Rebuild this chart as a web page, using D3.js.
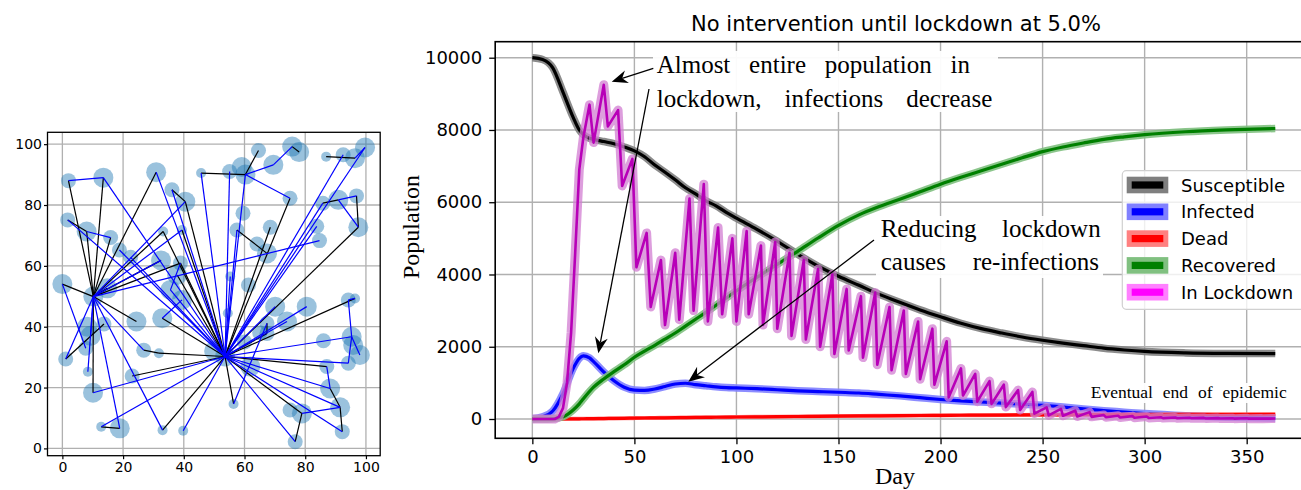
<!DOCTYPE html>
<html>
<head>
<meta charset="utf-8">
<script src="https://cdn.jsdelivr.net/npm/d3@7"></script>
<style>
  body { margin: 0; background: #fff; }
  svg { display: block; font-family: "DejaVu Sans", sans-serif; }
  .serif { font-family: "Liberation Serif", "Times New Roman", serif; }
</style>
</head>
<body>
<svg id="chart" width="1301" height="490"></svg>
<script>
// ---------- left panel: contact network ----------
// [x, y, weight]
const nodes = [
  [10.2, 49.9, 3], [53.6, 30.2, 3], [2.0, 88.0, 2], [13.5, 89.0, 3], [30.9, 90.8, 3],
  [45.7, 90.5, 1], [55.1, 91.0, 2], [59.1, 92.5, 3], [60.3, 90.0, 3], [69.5, 93.2, 3],
  [64.6, 97.9, 2], [75.7, 99.2, 3], [78.0, 97.4, 3], [86.9, 95.9, 1], [92.5, 96.5, 2],
  [96.4, 95.4, 3], [99.7, 98.9, 3], [36.1, 85.0, 2], [40.5, 81.1, 3], [75.0, 82.2, 2],
  [85.8, 80.6, 2], [90.9, 81.7, 3], [96.9, 83.0, 2], [59.5, 77.3, 2], [1.75, 75.1, 2],
  [8.0, 71.3, 3], [15.9, 69.3, 2], [33.2, 71.3, 1], [39.4, 71.8, 1], [57.5, 71.8, 2],
  [68.5, 72.7, 2], [97.5, 72.7, 3], [83.8, 73.0, 2], [84.7, 68.3, 2], [64.1, 67.2, 2],
  [18.8, 65.2, 2], [22.5, 62.8, 2], [32.5, 61.8, 3], [38.9, 60.9, 2], [67.4, 64.1, 3],
  [55.3, 56.5, 1], [61.3, 53.7, 2], [37.8, 57.0, 3], [0.0, 54.0, 3], [14.8, 52.6, 3],
  [35.6, 52.1, 3], [39.4, 48.8, 3], [70.1, 46.6, 3], [80.5, 46.6, 3], [94.2, 48.8, 2],
  [96.4, 49.3, 1], [54.5, 44.4, 1], [24.4, 41.7, 3], [32.9, 42.8, 3], [13.7, 40.9, 2],
  [8.2, 40.0, 3], [9.3, 37.0, 3], [67.4, 41.1, 2], [74.0, 41.7, 3], [67.4, 37.8, 2],
  [86.0, 35.4, 2], [95.3, 36.7, 3], [95.8, 34.0, 3], [7.7, 32.9, 2], [26.8, 32.3, 2],
  [31.8, 31.3, 1], [1.1, 29.4, 2], [61.9, 26.9, 3], [98.0, 30.7, 3], [94.2, 28.0, 2],
  [87.1, 26.9, 2], [8.4, 25.2, 1], [23.0, 23.8, 2], [10.1, 18.3, 3], [88.2, 19.7, 3],
  [56.4, 14.6, 1], [75.0, 12.6, 2], [78.9, 11.5, 3], [91.5, 13.5, 3], [12.8, 7.1, 1],
  [18.9, 6.6, 3], [33.0, 6.0, 1], [39.8, 5.8, 1], [92.2, 5.5, 2], [76.7, 2.2, 2],
  [65.0, 38.0, 2], [60.0, 35.0, 2], [50.0, 32.0, 3]
];
const blackEdges = [
  [0, 2], [0, 3], [0, 4], [0, 25], [0, 26], [0, 27], [0, 38], [0, 43], [0, 52], [0, 73],
  [0, 44], [66, 54], [17, 18], [18, 1], [5, 8], [8, 10], [11, 12], [19, 1], [13, 15],
  [20, 21], [22, 31], [31, 1], [25, 24], [29, 39], [30, 1], [38, 1], [28, 1], [53, 1],
  [64, 65], [65, 1], [72, 1], [79, 80], [81, 1], [75, 1], [84, 77], [77, 1], [78, 83],
  [74, 78], [70, 1], [50, 1], [57, 59], [59, 1], [42, 1], [27, 1], [0, 37]
];
const blueEdges = [
  [2, 3], [3, 1], [4, 1], [5, 1], [6, 1], [8, 1], [8, 9], [9, 11], [8, 19], [14, 1],
  [16, 15], [16, 1], [21, 22], [20, 1], [21, 31], [24, 1], [25, 26], [0, 28], [0, 18],
  [29, 1], [32, 1], [0, 33], [35, 1], [36, 1], [38, 45], [45, 1], [40, 1], [43, 63],
  [0, 56], [66, 0], [0, 64], [0, 71], [73, 1], [80, 0], [79, 1], [81, 0], [82, 1],
  [75, 57], [84, 1], [77, 78], [78, 1], [83, 1], [74, 1], [74, 70], [69, 1], [69, 61],
  [61, 1], [61, 68], [49, 50], [49, 61], [48, 1], [58, 1], [47, 1], [53, 46], [17, 1], [0, 37]
];
const netTicks = [0, 20, 40, 60, 80, 100];

// ---------- right panel: epidemic curves ----------
const days = [0, 5, 10, 15, 20, 23, 25, 28, 30, 35, 40, 45, 50, 55, 60, 65, 70, 75, 80, 85,
  90, 95, 100, 110, 120, 130, 140, 150, 160, 170, 180, 190, 200, 210, 220, 230, 240, 250,
  260, 270, 280, 290, 300, 320, 340, 364];
const susceptible = [10000, 9950, 9720, 9050, 8350, 8000, 7870, 7770, 7740, 7680, 7620, 7530,
  7420, 7260, 7030, 6830, 6620, 6400, 6230, 6040, 5900, 5720, 5560, 5250, 4920, 4560, 4230,
  3950, 3700, 3450, 3230, 3020, 2830, 2650, 2500, 2380, 2270, 2180, 2100, 2030, 1960, 1910,
  1870, 1830, 1815, 1810];
const infected = [10, 60, 220, 700, 1400, 1680, 1750, 1690, 1590, 1300, 1060, 880, 800, 790,
  830, 900, 970, 990, 950, 920, 890, 870, 860, 840, 810, 780, 760, 740, 720, 680, 640, 590,
  540, 500, 470, 440, 410, 380, 330, 280, 230, 190, 150, 90, 50, 25];
const dead = [0, 0, 1, 3, 5, 6, 7, 9, 10, 13, 17, 20, 24, 28, 31, 34, 37, 40, 43, 46, 49, 52,
  55, 60, 65, 70, 75, 80, 85, 89, 93, 97, 100, 104, 107, 110, 113, 115, 117, 119, 121, 123,
  125, 127, 128, 130];
const recovered = [0, 0, 5, 60, 250, 420, 560, 760, 880, 1110, 1310, 1500, 1710, 1880, 2040,
  2210, 2380, 2570, 2760, 2950, 3150, 3350, 3550, 3920, 4280, 4640, 5010, 5360, 5650, 5880,
  6080, 6290, 6500, 6690, 6870, 7050, 7230, 7400, 7530, 7640, 7740, 7810, 7870, 7950, 8000, 8040];

// lockdown: weekly saw-tooth, vertices
const lockDays = [0, 11, 13, 15, 17, 19, 21, 23, 25, 28, 30, 35, 37, 42, 44, 49, 51, 56, 58,
  63, 65, 70, 72, 77, 79, 84, 86, 91, 93, 98, 100, 105, 106, 112, 113, 119, 120, 126, 127,
  133, 134, 140, 141, 147, 148, 154, 155, 161, 162, 168, 169, 175, 176, 182, 183, 189, 190,
  196, 197, 203, 204, 210, 211, 217, 218, 224, 225, 231, 232, 238, 239, 245, 246, 252, 253,
  259, 260, 266, 267, 273, 274, 280, 281, 287, 288, 294, 295, 301, 302, 308, 309, 315, 316,
  322, 323, 329, 330, 336, 337, 343, 344, 350, 351, 357, 358, 364];
const lockdown = [0, 0, 60, 300, 1000, 2400, 4600, 6900, 7800, 8700, 7650, 9250, 8100, 8550,
  6450, 7200, 4200, 5150, 3100, 4400, 2600, 4600, 2750, 6100, 3000, 6500, 2700, 5300, 2900,
  5000, 2700, 5200, 2900, 4800, 2600, 4900, 2500, 4600, 2300, 4400, 2200, 4150, 2000, 4000,
  1800, 3600, 1900, 3400, 1700, 3500, 1500, 3100, 1350, 3000, 1250, 2700, 1100, 2500, 950,
  2150, 600, 1400, 650, 1250, 480, 1050, 420, 950, 330, 800, 250, 750, 150, 320, 100, 280,
  90, 230, 70, 190, 60, 110, 50, 90, 40, 80, 35, 70, 30, 50, 25, 40, 20, 35, 20, 30, 15, 25,
  15, 20, 10, 20, 10, 15, 10, 12];

const dayTicks = [0, 50, 100, 150, 200, 250, 300, 350];
const popTicks = [0, 2000, 4000, 6000, 8000, 10000];
const legendNames = ["Susceptible", "Infected", "Dead", "Recovered", "In Lockdown"];
const titleText = "No intervention until lockdown at 5.0%";

const svg = d3.select("#chart");
const gridColor = "#b0b0b0";

// ================= left panel =================
const lx = d3.scaleLinear().domain([-4.9, 104.7]).range([47.5, 380.2]);
const ly = d3.scaleLinear().domain([-2.4, 103.9]).range([455.7, 132.3]);
const nodeR = d3.scaleLinear().domain([1, 3]).range([5, 10]);

const left = svg.append("g");
left.append("clipPath").attr("id", "clipL")
  .append("rect")
  .attr("x", lx.range()[0]).attr("y", ly.range()[1])
  .attr("width", lx.range()[1] - lx.range()[0])
  .attr("height", ly.range()[0] - ly.range()[1]);

const leftPlot = left.append("g").attr("clip-path", "url(#clipL)");

// grid
leftPlot.selectAll(".gx").data(netTicks).enter().append("line")
  .attr("x1", d => lx(d)).attr("x2", d => lx(d))
  .attr("y1", ly.range()[0]).attr("y2", ly.range()[1])
  .attr("stroke", gridColor).attr("stroke-width", 1.3);
leftPlot.selectAll(".gy").data(netTicks).enter().append("line")
  .attr("y1", d => ly(d)).attr("y2", d => ly(d))
  .attr("x1", lx.range()[0]).attr("x2", lx.range()[1])
  .attr("stroke", gridColor).attr("stroke-width", 1.3);

// nodes
leftPlot.selectAll("circle").data(nodes).enter().append("circle")
  .attr("cx", d => lx(d[0])).attr("cy", d => ly(d[1]))
  .attr("r", d => nodeR(d[2]))
  .attr("fill", "#1f77b4").attr("fill-opacity", 0.45);

// edges
function drawEdges(list, color) {
  leftPlot.append("g").selectAll("line").data(list).enter().append("line")
    .attr("x1", d => lx(nodes[d[0]][0])).attr("y1", d => ly(nodes[d[0]][1]))
    .attr("x2", d => lx(nodes[d[1]][0])).attr("y2", d => ly(nodes[d[1]][1]))
    .attr("stroke", color).attr("stroke-width", 1.2);
}
drawEdges(blackEdges, "#000");
drawEdges(blueEdges, "#0000ff");

// frame and axes
left.append("rect")
  .attr("x", lx.range()[0]).attr("y", ly.range()[1])
  .attr("width", lx.range()[1] - lx.range()[0])
  .attr("height", ly.range()[0] - ly.range()[1])
  .attr("fill", "none").attr("stroke", "#000").attr("stroke-width", 1.3);

const lAxisX = left.append("g")
  .attr("transform", "translate(0," + ly.range()[0] + ")")
  .call(d3.axisBottom(lx).tickValues(netTicks).tickSize(3.5).tickPadding(3));
const lAxisY = left.append("g")
  .attr("transform", "translate(" + lx.range()[0] + ",0)")
  .call(d3.axisLeft(ly).tickValues(netTicks).tickSize(3.5).tickPadding(2));
[lAxisX, lAxisY].forEach(a => {
  a.select(".domain").remove();
  a.selectAll("text").attr("font-size", 14).attr("font-family", "DejaVu Sans").attr("fill", "#000");
  a.selectAll("line").attr("stroke", "#000").attr("stroke-width", 1.2);
});

// ================= right panel =================
const x = d3.scaleLinear().domain([-18.2, 382.2]).range([495.2, 1312.4]);
const y = d3.scaleLinear().domain([-534, 10443]).range([438.3, 41.7]);

const right = svg.append("g");
right.append("clipPath").attr("id", "clipR")
  .append("rect")
  .attr("x", x.range()[0]).attr("y", y.range()[1])
  .attr("width", x.range()[1] - x.range()[0])
  .attr("height", y.range()[0] - y.range()[1]);
const plot = right.append("g").attr("clip-path", "url(#clipR)");

// grid
plot.selectAll(".gx").data(dayTicks).enter().append("line")
  .attr("x1", d => x(d)).attr("x2", d => x(d))
  .attr("y1", y.range()[0]).attr("y2", y.range()[1])
  .attr("stroke", gridColor).attr("stroke-width", 1.4);
plot.selectAll(".gy").data(popTicks).enter().append("line")
  .attr("y1", d => y(d)).attr("y2", d => y(d))
  .attr("x1", x.range()[0]).attr("x2", x.range()[1])
  .attr("stroke", gridColor).attr("stroke-width", 1.4);

const smooth = d3.line().curve(d3.curveMonotoneX)
  .x(d => x(d[0])).y(d => y(d[1]));
const straight = d3.line().x(d => x(d[0])).y(d => y(d[1]));

const series = [
  { name: "Susceptible", pts: d3.zip(days, susceptible), line: "#000000", band: "#808080", path: smooth },
  { name: "Infected", pts: d3.zip(days, infected), line: "#0000ff", band: "#8080ff", path: smooth },
  { name: "Dead", pts: d3.zip(days, dead), line: "#ff0000", band: "#ff8080", path: smooth },
  { name: "Recovered", pts: d3.zip(days, recovered), line: "#008000", band: "#80c080", path: smooth },
  { name: "In Lockdown", pts: d3.zip(lockDays, lockdown), line: "#b800b8", band: "#d27ed2", path: straight }
];

series.forEach(s => {
  const lock = s.name === "In Lockdown";
  plot.append("path").attr("d", s.path(s.pts))
    .attr("fill", "none").attr("stroke", s.band)
    .attr("stroke-width", lock ? 9 : (s.name === "Dead" ? 4 : 7.5))
    .attr("stroke-opacity", lock ? 0.75 : 0.9)
    .attr("stroke-linejoin", "round");
  plot.append("path").attr("d", s.path(s.pts))
    .attr("fill", "none").attr("stroke", s.line)
    .attr("stroke-width", lock ? 2.6 : 3.2)
    .attr("stroke-linejoin", "round");
});

// frame and axes
right.append("rect")
  .attr("x", x.range()[0]).attr("y", y.range()[1])
  .attr("width", x.range()[1] - x.range()[0])
  .attr("height", y.range()[0] - y.range()[1])
  .attr("fill", "none").attr("stroke", "#000").attr("stroke-width", 1.6);

const rAxisX = right.append("g")
  .attr("transform", "translate(0," + y.range()[0] + ")")
  .call(d3.axisBottom(x).tickValues(dayTicks).tickSize(6).tickPadding(6));
const rAxisY = right.append("g")
  .attr("transform", "translate(" + x.range()[0] + ",0)")
  .call(d3.axisLeft(y).tickValues(popTicks).tickFormat(d3.format("d")).tickSize(6).tickPadding(7));
[rAxisX, rAxisY].forEach(a => {
  a.select(".domain").remove();
  a.selectAll("text").attr("font-size", 18).attr("font-family", "DejaVu Sans").attr("fill", "#000");
  a.selectAll("line").attr("stroke", "#000").attr("stroke-width", 1.3);
});

// title and axis labels
svg.append("text").attr("x", 896).attr("y", 30.7)
  .attr("text-anchor", "middle").attr("font-size", 21)
  .text(titleText);
svg.append("text").attr("class", "serif")
  .attr("transform", "translate(419,227) rotate(-90)")
  .attr("text-anchor", "middle").attr("font-size", 24)
  .text("Population");
svg.append("text").attr("class", "serif")
  .attr("x", 895).attr("y", 484)
  .attr("text-anchor", "middle").attr("font-size", 24)
  .text("Day");

// legend
const legend = right.append("g");
legend.append("rect")
  .attr("x", 1122.3).attr("y", 170.7).attr("width", 200).attr("height", 138.6)
  .attr("rx", 4).attr("fill", "#fff").attr("fill-opacity", 0.8)
  .attr("stroke", "#d0d0d0").attr("stroke-width", 1.2);
const legendPatch = { Susceptible: ["#7f7f7f", "#000"], Infected: ["#8080ff", "#0000ff"],
  Dead: ["#ff8080", "#ff0000"], Recovered: ["#80c080", "#008000"], "In Lockdown": ["#ff80ff", "#ff00ff"] };
legendNames.forEach((n, i) => {
  const cy = 185 + i * 26.8;
  legend.append("rect").attr("x", 1126.7).attr("y", cy - 8.3).attr("width", 41.6).attr("height", 16.6)
    .attr("fill", legendPatch[n][0]);
  legend.append("rect").attr("x", 1131.7).attr("y", cy - 3.6).attr("width", 31.6).attr("height", 7.2)
    .attr("fill", legendPatch[n][1]);
  legend.append("text").attr("x", 1181).attr("y", cy + 6.6)
    .attr("font-size", 18).text(n);
});

// annotations
const notes = svg.append("g").attr("class", "serif");

function boxedLines(box, lines, size) {
  notes.append("rect").attr("x", box[0]).attr("y", box[1])
    .attr("width", box[2] - box[0]).attr("height", box[3] - box[1])
    .attr("fill", "#fff").attr("fill-opacity", 0.95);
  lines.forEach(l => {
    const t = notes.append("text").attr("y", l.y).attr("font-size", size);
    const words = l.text.split(" ");
    const spans = words.map(w => t.append("tspan").text(w));
    const widths = spans.map(s => s.node().getComputedTextLength());
    const gap = words.length > 1 ? (l.x1 - l.x0 - d3.sum(widths)) / (words.length - 1) : 0;
    let cx = l.x0;
    spans.forEach((s, i) => { s.attr("x", cx); cx += widths[i] + gap; });
  });
}

boxedLines([653, 51, 998, 112], [
  { text: "Almost entire population in", x0: 656.7, x1: 970, y: 73.3 },
  { text: "lockdown, infections decrease", x0: 656.7, x1: 992.3, y: 106.7 }
], 25);
boxedLines([876, 216, 1103, 278], [
  { text: "Reducing lockdown", x0: 880.7, x1: 1100.7, y: 237 },
  { text: "causes re-infections", x0: 880.7, x1: 1099, y: 270 }
], 25);
boxedLines([1085, 383, 1292, 403], [
  { text: "Eventual end of epidemic", x0: 1090.7, x1: 1286.7, y: 398.3 }
], 17.5);

// arrows (tail -> head, screen coordinates of annotation anchors)
const arrows = [
  [[653.3, 68.3], [611.7, 81.7]],
  [[649, 89], [598.3, 353.3]],
  [[874, 240], [688.3, 381.7]]
];
arrows.forEach(a => {
  const [t, h] = a;
  const ang = Math.atan2(h[1] - t[1], h[0] - t[0]);
  const len = 16, wid = 6.5, notch = 11;
  const ux = Math.cos(ang), uy = Math.sin(ang);
  const bx = h[0] - ux * len, by = h[1] - uy * len;
  const nx = h[0] - ux * notch, ny = h[1] - uy * notch;
  svg.append("line").attr("x1", t[0]).attr("y1", t[1]).attr("x2", nx).attr("y2", ny)
    .attr("stroke", "#000").attr("stroke-width", 1.3);
  svg.append("path")
    .attr("d", "M" + h[0] + "," + h[1] +
      "L" + (bx - uy * wid) + "," + (by + ux * wid) +
      "L" + nx + "," + ny +
      "L" + (bx + uy * wid) + "," + (by - ux * wid) + "Z")
    .attr("fill", "#000");
});
</script>
</body>
</html>
